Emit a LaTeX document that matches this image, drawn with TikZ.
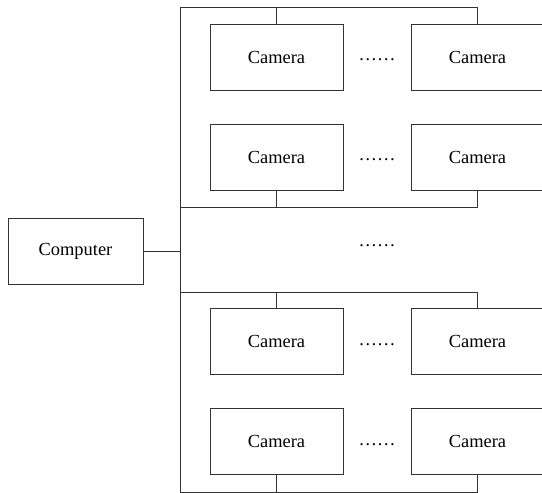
\documentclass[tikz,border=0pt]{standalone}
\usepackage{fontspec}
\setmainfont{Liberation Serif}
\begin{document}
\begin{tikzpicture}[x=1bp,y=1bp,
  line/.style={draw=black!80,line width=0.9bp},
  cam/.style={line,rectangle,minimum width=133bp,minimum height=66bp,inner sep=0pt,font=\fontsize{18.5}{22}\selectfont},
  dots/.style={font=\fontsize{18.5}{22}\selectfont,inner sep=0pt}]
\useasboundingbox (0,0) rectangle (542,493);
\begin{scope}
\clip (0,0) rectangle (542,493);
% computer
\node[cam,minimum width=135bp] (comp) at (75.5,242) {Computer};
% cameras
\node[cam] (c11) at (276.5,436) {Camera};
\node[cam] (c12) at (477.5,436) {Camera};
\node[cam] (c21) at (276.5,336) {Camera};
\node[cam] (c22) at (477.5,336) {Camera};
\node[cam] (c31) at (276.5,151.5) {Camera};
\node[cam] (c32) at (477.5,151.5) {Camera};
\node[cam] (c41) at (276.5,51.5) {Camera};
\node[cam] (c42) at (477.5,51.5) {Camera};
% dots
\node[dots] (d1) at (377,433) {……};
\node[dots] (d2) at (377,333) {……};
\node[dots] (dm) at (377,247) {……};
\node[dots] (d3) at (377,148.5) {……};
\node[dots] (d4) at (377,48.5) {……};
% bus coordinates
\coordinate (btop) at (180,486);
\coordinate (bmid1) at (180,286);
\coordinate (bmid2) at (180,201);
\coordinate (bbot) at (180,1);
\draw[line] (btop) -- (bbot);
\draw[line] (c11.north) |- (btop);
\draw[line] (c12.north) |- (btop);
\draw[line] (c21.south) |- (bmid1);
\draw[line] (c22.south) |- (bmid1);
\draw[line] (c31.north) |- (bmid2);
\draw[line] (c32.north) |- (bmid2);
\draw[line] (c41.south) |- (bbot);
\draw[line] (c42.south) |- (bbot);
\draw[line] (comp.east) -- (comp.east -| btop);
\end{scope}
\end{tikzpicture}
\end{document}
